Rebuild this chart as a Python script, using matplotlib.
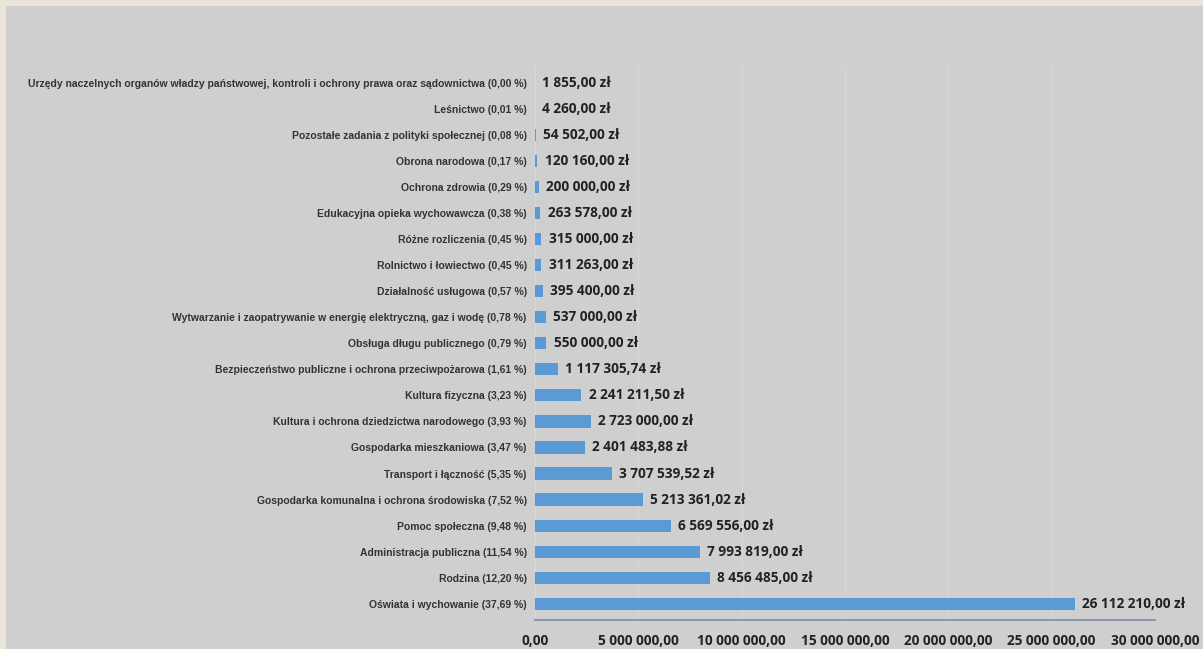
import matplotlib.pyplot as plt
from matplotlib.patches import Rectangle

categories = [
    'Urzędy naczelnych organów władzy państwowej, kontroli i ochrony prawa oraz sądownictwa (0,00 %)',
    'Leśnictwo (0,01 %)',
    'Pozostałe zadania z polityki społecznej (0,08 %)',
    'Obrona narodowa (0,17 %)',
    'Ochrona zdrowia (0,29 %)',
    'Edukacyjna opieka wychowawcza (0,38 %)',
    'Różne rozliczenia (0,45 %)',
    'Rolnictwo i łowiectwo (0,45 %)',
    'Działalność usługowa (0,57 %)',
    'Wytwarzanie i zaopatrywanie w energię elektryczną, gaz i wodę (0,78 %)',
    'Obsługa długu publicznego (0,79 %)',
    'Bezpieczeństwo publiczne i ochrona przeciwpożarowa (1,61 %)',
    'Kultura fizyczna (3,23 %)',
    'Kultura i ochrona dziedzictwa narodowego (3,93 %)',
    'Gospodarka mieszkaniowa (3,47 %)',
    'Transport i łączność (5,35 %)',
    'Gospodarka komunalna i ochrona środowiska (7,52 %)',
    'Pomoc społeczna (9,48 %)',
    'Administracja publiczna (11,54 %)',
    'Rodzina (12,20 %)',
    'Oświata i wychowanie (37,69 %)',
]
values = [1855.00, 4260.00, 54502.00, 120160.00, 200000.00, 263578.00, 315000.00,
          311263.00, 395400.00, 537000.00, 550000.00, 1117305.74, 2241211.50,
          2723000.00, 2401483.88, 3707539.52, 5213361.02, 6569556.00, 7993819.00,
          8456485.00, 26112210.00]
xticks = [0, 5e6, 10e6, 15e6, 20e6, 25e6, 30e6]


def pl_money(v):
    s = f'{v:,.2f}'
    return s.replace(',', ' ').replace('.', ',')


bg = '#d0cfd0'
fig = plt.figure(figsize=(12.03, 6.49), dpi=100, facecolor='#ebe4d9')
fig.patches.append(Rectangle((6 / 1203, 0), 1, 1 - 6 / 649, transform=fig.transFigure,
                             facecolor=bg, edgecolor='none', zorder=-10))

ax = fig.add_axes([0.4447, 0.0447, 0.5153, 0.853])
ax.set_facecolor(bg)

# reverse so first category is on top
cats = categories[::-1]
vals = values[::-1]
ypos = list(range(len(cats)))
ax.barh(ypos, vals, height=0.47, color='#5b9bd5', zorder=3)

for y, v in zip(ypos, vals):
    ax.text(v + 3.5e5, y, pl_money(v) + ' zł', va='center', ha='left',
            fontsize=9.8, fontweight='bold', color='#222222', family='Open Sans')

ax.set_yticks(ypos)
ax.set_yticklabels(cats, fontsize=7.5, fontweight='bold', color='#333333',
                   family='Liberation Sans')
ax.set_xticks(xticks)
ax.set_xticklabels([pl_money(t) for t in xticks], fontsize=9.8, fontweight='bold',
                   color='#222222', family='Open Sans')
ax.tick_params(axis='both', length=0)
ax.tick_params(axis='y', pad=6)
ax.tick_params(axis='x', pad=10)

ax.set_xlim(0, 30e6)
ax.set_ylim(-0.62, len(cats) - 0.38)
ax.grid(axis='x', color='#d7d7d7', linewidth=0.8, zorder=0)
for s in ['top', 'right', 'left']:
    ax.spines[s].set_visible(False)
ax.spines['bottom'].set_color('#8d9aab')
ax.spines['bottom'].set_linewidth(1.5)

plt.savefig('out.png', dpi=100, facecolor=fig.get_facecolor())
